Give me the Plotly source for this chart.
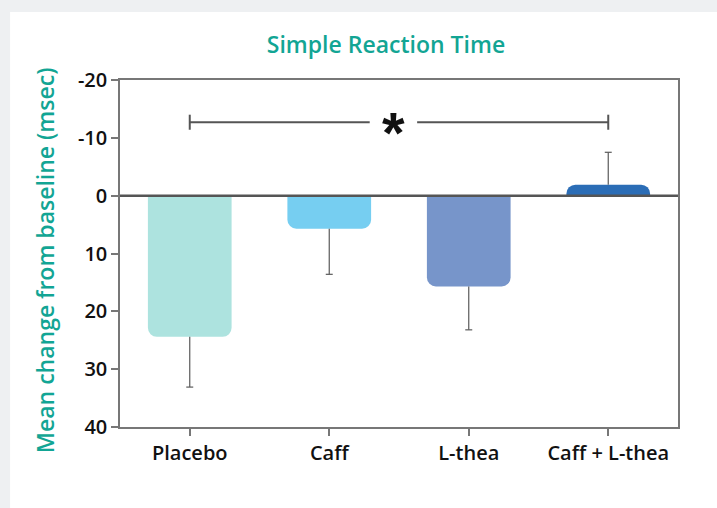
import plotly.graph_objects as go

categories = ["Placebo", "Caff", "L-thea", "Caff + L-thea"]
mean_change = [24.4, 5.7, 15.7, -1.9]
err_plus = [8.7, 7.9, 7.5, 0.0]
err_minus = [0.0, 0.0, 0.0, 5.6]
bar_colors = ["#ade3df", "#76cef1", "#7795ca", "#2b6db6"]
y_tick_vals = [-20, -10, 0, 10, 20, 30, 40]
y_tick_text = ["-20", "-10", "0", "10", "20", "30", "40"]
bracket_from = 0
bracket_to = 3
bracket_level = -12.7
bracket_cap = 1.3
star_gap = (1.29, 1.63)
star_pos = 1.46

TEAL = "#12a594"
FONT = "Open Sans"
xs = list(range(len(categories)))

fig = go.Figure()
fig.add_trace(go.Bar(
    x=xs, y=mean_change, width=0.6,
    marker=dict(color=bar_colors, line=dict(width=0), cornerradius=9),
    showlegend=False, hoverinfo="skip",
))

# one-sided error bars (whisker from bar end outward, cap only at the far end)
cap_half = 0.025
ex, ey = [], []
for i, m in enumerate(mean_change):
    tip = m + err_plus[i] - err_minus[i]
    ex += [i, i, None, i - cap_half, i + cap_half, None]
    ey += [m, tip, None, tip, tip, None]
fig.add_trace(go.Scatter(x=ex, y=ey, mode="lines", line=dict(color="#5a5a5a", width=1.2),
                         showlegend=False, hoverinfo="skip"))

# significance bracket
bx = [bracket_from, bracket_from, None, bracket_from, star_gap[0], None,
      star_gap[1], bracket_to, None, bracket_to, bracket_to]
by = [bracket_level - bracket_cap, bracket_level + bracket_cap, None,
      bracket_level, bracket_level, None, bracket_level, bracket_level, None,
      bracket_level - bracket_cap, bracket_level + bracket_cap]
fig.add_trace(go.Scatter(x=bx, y=by, mode="lines", line=dict(color="#555555", width=2),
                         showlegend=False, hoverinfo="skip"))
fig.add_annotation(x=star_pos, y=bracket_level, text="<b>*</b>", showarrow=False,
                   font=dict(family="Liberation Sans", size=58, color="#111111"),
                   yshift=-10)

# white card on grey background
fig.add_shape(type="rect", xref="paper", yref="paper", x0=-0.197, x1=1.2, y0=-0.3, y1=1.196,
              fillcolor="white", line=dict(width=0), layer="below")
# zero line
fig.add_shape(type="line", xref="paper", yref="y", x0=0, x1=1, y0=0, y1=0,
              line=dict(color="#555555", width=2.5), layer="above")

fig.add_annotation(xref="paper", yref="paper", x=-0.133, y=0.48,
                   xanchor="center", yanchor="middle",
                   text="Mean change from baseline (msec)", textangle=-90, showarrow=False,
                   font=dict(family=FONT, size=23, color=TEAL, weight=600))

fig.update_layout(
    width=717, height=508,
    margin=dict(l=120, r=39, t=80, b=81),
    paper_bgcolor="#eef0f2", plot_bgcolor="white",
    title=dict(text="Simple Reaction Time", x=386 / 717, xanchor="center",
               y=1 - 45 / 508, yanchor="middle",
               font=dict(family=FONT, size=23, color=TEAL, weight=600)),
    xaxis=dict(range=[-0.5, 3.5], tickvals=xs, ticktext=categories, showgrid=False,
               zeroline=False, showline=True, linecolor="#777777", linewidth=1.5,
               mirror=True, ticks="outside", ticklen=7, tickcolor="#777777", tickwidth=1.5,
               tickfont=dict(family=FONT, size=20, color="#111111", weight=600)),
    yaxis=dict(range=[40, -20], tickvals=y_tick_vals, ticktext=y_tick_text, showgrid=False,
               zeroline=False, showline=True, linecolor="#777777", linewidth=1.5,
               mirror=True, ticks="outside", ticklen=7, tickcolor="#777777", tickwidth=1.5,
               tickfont=dict(family=FONT, size=20, color="#111111", weight=600)),
)

fig.write_html("out.html", config={"displayModeBar": False},
               post_script="document.body.style.margin='0';")
